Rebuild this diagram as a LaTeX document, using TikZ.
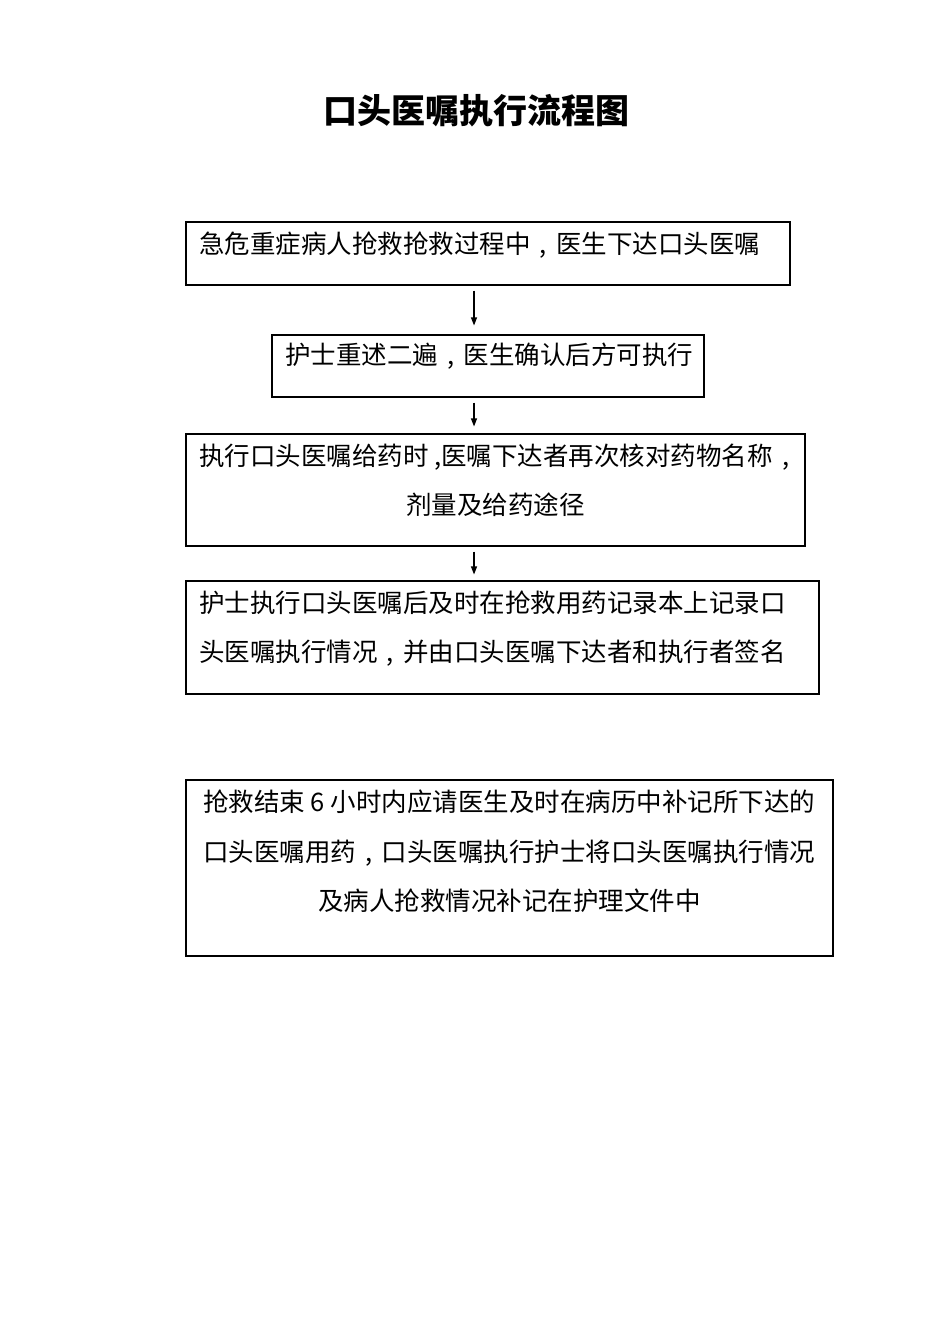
\documentclass[tikz,border=0pt]{standalone}
\usepackage{fontspec}
\newfontfamily\cjk{Noto Sans CJK SC}
\usetikzlibrary{arrows.meta}
\newcommand\zc{\makebox[1em][c]{,}}
\newcommand\hc{\makebox[0.5em][r]{,}}
\begin{document}
\begin{tikzpicture}[x=1pt,y=-1pt,
  box/.style={draw=black,line width=1.1pt,rectangle,inner sep=0pt},
  txt/.style={inner sep=0pt,font=\cjk\fontsize{25.5}{30}\selectfont},
  ttl/.style={inner sep=0pt,font=\cjk\bfseries\fontsize{34}{40}\selectfont},
  arr/.style={draw=black,line width=1.1pt,-{Triangle[length=8pt,width=6pt]}}]
\useasboundingbox[fill=white] (0,0) rectangle (950,1344);
\node[ttl,anchor=base] (title) at (476,123) {口头医嘱执行流程图};
% boxes
\node[box,minimum width=604,minimum height=63] (b1) at (488,253.5) {};
\node[box,minimum width=432,minimum height=62] (b2) at (488,366) {};
\node[box,minimum width=619,minimum height=112] (b3) at (495.5,490) {};
\node[box,minimum width=633,minimum height=113] (b4) at (502.5,637.5) {};
\node[box,minimum width=647,minimum height=176] (b5) at (509.5,868) {};
% texts
\node[txt,anchor=base west] (t1) at (199,253.5) {急危重症病人抢救抢救过程中\zc 医生下达口头医嘱};
\node[txt,anchor=base west] (t2) at (285,364.5) {护士重述二遍\zc 医生确认后方可执行};
\node[txt,anchor=base west] (t3a) at (199,465.5) {执行口头医嘱给药时\hc 医嘱下达者再次核对药物名称\zc};
\node[txt,anchor=base] (t3b) at (495.5,514.5) {剂量及给药途径};
\node[txt,anchor=base west] (t4a) at (199,612.5) {\makebox[606pt][s]{护士执行口头医嘱后及时在抢救用药记录本上记录口}};
\node[txt,anchor=base west] (t4b) at (199,661.5) {头医嘱执行情况\zc 并由口头医嘱下达者和执行者签名};
\node[txt,anchor=base west] (t5a) at (203,811.5) {抢救结束 6 小时内应请医生及时在病历中补记所下达的};
\node[txt,anchor=base west] (t5b) at (203,861.5) {口头医嘱用药\zc 口头医嘱执行护士将口头医嘱执行情况};
\node[txt,anchor=base] (t5c) at (509.5,910.5) {及病人抢救情况补记在护理文件中};
% arrows
\coordinate (ax) at (474,0);
\draw[arr,shorten <=5pt,shorten >=9pt] (b1.south -| ax) -- (b2.north -| ax);
\draw[arr,shorten <=5pt,shorten >=7pt] (b2.south -| ax) -- (b3.north -| ax);
\draw[arr,shorten <=5pt,shorten >=6pt] (b3.south -| ax) -- (b4.north -| ax);
\end{tikzpicture}
\end{document}
